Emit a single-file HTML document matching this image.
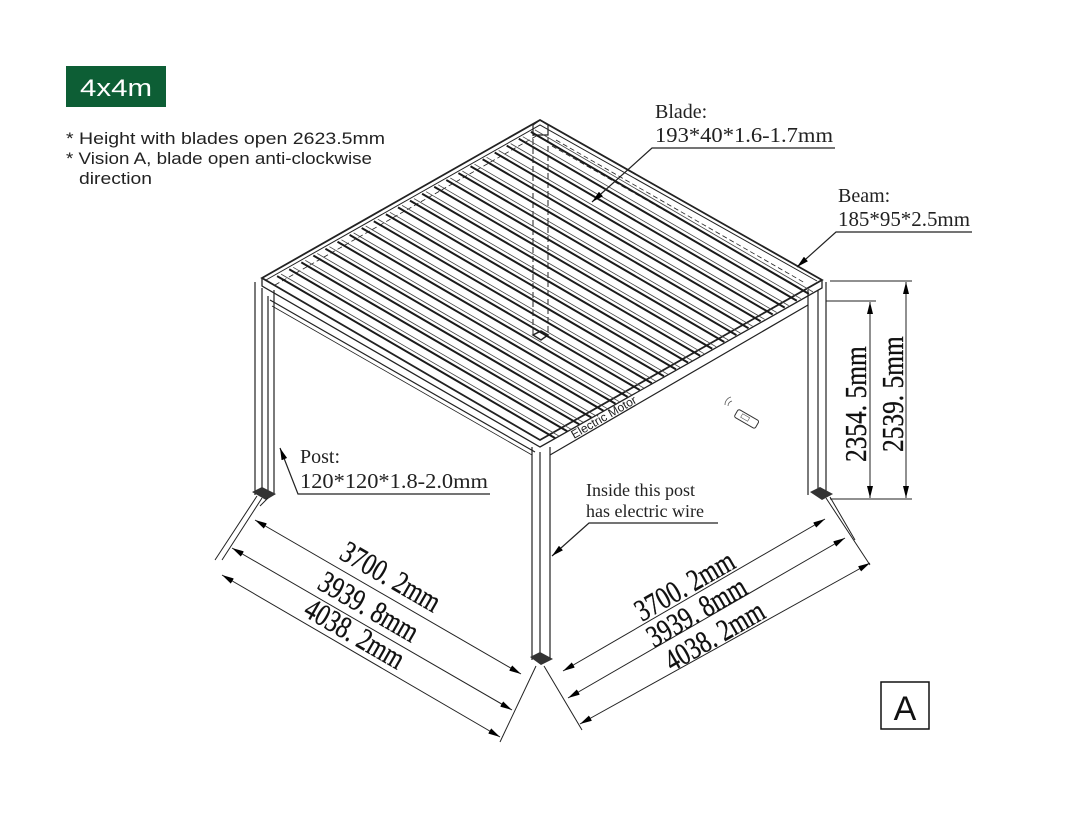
<!DOCTYPE html>
<html><head><meta charset="utf-8"><style>
body{margin:0;background:#fff;}
svg{display:block;}
.s{font-family:"Liberation Sans",sans-serif;}
.d{font-family:"Liberation Serif",serif;}
</style></head><body>
<svg width="1080" height="831" viewBox="0 0 1080 831" xmlns="http://www.w3.org/2000/svg">
<defs>
<marker id="a" viewBox="0 0 12 6" refX="12" refY="3" markerWidth="12" markerHeight="6" orient="auto-start-reverse" markerUnits="userSpaceOnUse"><path d="M0,0 L12,3 L0,6z" fill="#000"/></marker>
<g id="bl"><line x1="265" y1="283" x2="543" y2="445" stroke="#1a1a1a" stroke-width="2"/><line x1="269" y1="281" x2="547" y2="443" stroke="#444" stroke-width="0.8"/></g>
</defs>
<rect x="66" y="66" width="100" height="41" fill="#0d5e35"/>
<text x="80" y="96" class="s" font-size="24" fill="#fff" textLength="72" lengthAdjust="spacingAndGlyphs">4x4m</text>
<text x="66" y="144" class="s" font-size="16.5" fill="#222" textLength="319" lengthAdjust="spacingAndGlyphs">* Height with blades open 2623.5mm</text>
<text x="66" y="164" class="s" font-size="16.5" fill="#222" textLength="306" lengthAdjust="spacingAndGlyphs">* Vision A, blade open anti-clockwise</text>
<text x="79" y="184" class="s" font-size="16.5" fill="#222" textLength="73" lengthAdjust="spacingAndGlyphs">direction</text>

<g fill="none" stroke="#222">
<path d="M262,278 L540,120 L822,280 L540,440 Z" stroke-width="1.8"/>
<path d="M266,280 L540,125 L817,281" stroke-width="1"/>
<path d="M262,278 L262,286 L540,447 L822,288 L822,280" stroke-width="1.3"/>
<path d="M270,300 L535,452 M550,455 L808,305" stroke-width="1.2"/>
<path d="M272,306 L532,455" stroke-width="0.8"/>
<path d="M255,282 L255,495 M274,290 L274,495 M262,288 L262,495 M268,296 L268,495" stroke-width="1.2"/>
<path d="M532,447 L532,660 M550,447 L550,660 M540,452 L540,660" stroke-width="1.2"/>
<path d="M808,290 L808,495 M826,282 L826,495 M818,290 L818,495" stroke-width="1.2"/>
<path d="M533,130 L533,335 M548,128 L548,335" stroke-width="1" stroke-dasharray="6,3"/>
<path d="M533,335 L541,340 L548,335 L541,331 Z" stroke-width="1.5"/>
<path d="M540,120 L548,125 L548,135 L533,135 L533,125 Z" stroke-width="1.2"/>
<path d="M556,140 L805,283 M552,146 L800,288" stroke-width="0.8" stroke-dasharray="5,3"/>
<path d="M275,285 L538,135" stroke-width="0.8" stroke-dasharray="5,3"/>
</g>
<g>
<use href="#bl" transform="translate(12.1,-6.9)"/><use href="#bl" transform="translate(24.2,-13.7)"/><use href="#bl" transform="translate(36.3,-20.6)"/><use href="#bl" transform="translate(48.3,-27.5)"/><use href="#bl" transform="translate(60.4,-34.3)"/><use href="#bl" transform="translate(72.5,-41.2)"/><use href="#bl" transform="translate(84.6,-48.1)"/><use href="#bl" transform="translate(96.7,-55)"/><use href="#bl" transform="translate(108.8,-61.8)"/><use href="#bl" transform="translate(120.9,-68.7)"/><use href="#bl" transform="translate(133,-75.6)"/><use href="#bl" transform="translate(145,-82.4)"/><use href="#bl" transform="translate(157.1,-89.3)"/><use href="#bl" transform="translate(169.2,-96.2)"/><use href="#bl" transform="translate(181.3,-103)"/><use href="#bl" transform="translate(193.4,-109.9)"/><use href="#bl" transform="translate(205.5,-116.8)"/><use href="#bl" transform="translate(217.6,-123.7)"/><use href="#bl" transform="translate(229.7,-130.5)"/><use href="#bl" transform="translate(241.7,-137.4)"/><use href="#bl" transform="translate(253.8,-144.3)"/><use href="#bl" transform="translate(265.9,-151.1)"/>
</g>
<path d="M252,492 L262,487 L276,494 L266,500 Z" fill="#333"/>
<path d="M530,657 L540,652 L553,659 L541,665 Z" fill="#333"/>
<path d="M810,492 L820,487 L833,494 L822,500 Z" fill="#333"/>
<text transform="translate(574,439) rotate(-30)" class="s" font-size="12" fill="#222">Electric Motor</text>
<g transform="translate(746,418) rotate(30)"><rect x="-11" y="-4" width="24" height="9" rx="2" fill="none" stroke="#333"/><rect x="-5" y="-2" width="8" height="4" fill="none" stroke="#555" stroke-width=".6"/></g>
<path d="M728,406 a5,5 0 0,1 4,-5 M725,405 a8,8 0 0,1 6,-8" fill="none" stroke="#555" stroke-width=".8"/>

<text x="655" y="118" class="d" font-size="20" fill="#222">Blade:</text>
<text x="655" y="142" class="d" font-size="21" fill="#222" textLength="178" lengthAdjust="spacingAndGlyphs">193*40*1.6-1.7mm</text>
<path d="M835,148 L652,148 L592,202" fill="none" stroke="#222" stroke-width="1.2" marker-end="url(#a)"/>
<text x="838" y="202" class="d" font-size="20" fill="#222">Beam:</text>
<text x="838" y="226" class="d" font-size="21" fill="#222" textLength="132" lengthAdjust="spacingAndGlyphs">185*95*2.5mm</text>
<path d="M972,232 L836,232 L797,267" fill="none" stroke="#222" stroke-width="1.2" marker-end="url(#a)"/>
<text x="300" y="463" class="d" font-size="20" fill="#222">Post:</text>
<text x="300" y="488" class="d" font-size="21" fill="#222" textLength="188" lengthAdjust="spacingAndGlyphs">120*120*1.8-2.0mm</text>
<path d="M490,494 L298,494 L280,448" fill="none" stroke="#222" stroke-width="1.2" marker-end="url(#a)"/>
<text x="586" y="496" class="d" font-size="18" fill="#222">Inside this post</text>
<text x="586" y="517" class="d" font-size="18" fill="#222">has electric wire</text>
<path d="M718,523 L589,523 L552,556" fill="none" stroke="#222" stroke-width="1.2" marker-end="url(#a)"/>

<g stroke="#222" stroke-width="1" fill="none">
<path d="M262,498 L222,560 M257,496 L215,560 M268,498 L260,506"/>
<path d="M536,666 L500,742 M544,666 L582,730"/>
<path d="M826,498 L870,565 M830,497 L855,540"/>
<line x1="255" y1="520" x2="521" y2="674" marker-start="url(#a)" marker-end="url(#a)"/>
<line x1="232" y1="548" x2="512" y2="710" marker-start="url(#a)" marker-end="url(#a)"/>
<line x1="222" y1="575" x2="500" y2="737" marker-start="url(#a)" marker-end="url(#a)"/>
<line x1="563" y1="671" x2="825" y2="519" marker-start="url(#a)" marker-end="url(#a)"/>
<line x1="568" y1="698" x2="845" y2="538" marker-start="url(#a)" marker-end="url(#a)"/>
<line x1="580" y1="724" x2="870" y2="563" marker-start="url(#a)" marker-end="url(#a)"/>
<path d="M830,281 L912,281 M826,301 L876,301 M830,499 L912,499"/>
<line x1="870" y1="302" x2="870" y2="498" marker-start="url(#a)" marker-end="url(#a)"/>
<line x1="906" y1="282" x2="906" y2="498" marker-start="url(#a)" marker-end="url(#a)"/>
</g>
<g class="d" fill="#111" font-size="31" stroke="#111" stroke-width="0.3">
<text transform="translate(338,558) rotate(30) scale(0.78,1)">3700. 2mm</text>
<text transform="translate(316,588) rotate(30) scale(0.78,1)">3939. 8mm</text>
<text transform="translate(302,615) rotate(30) scale(0.78,1)">4038. 2mm</text>
<text transform="translate(642,622) rotate(-30) scale(0.78,1)">3700. 2mm</text>
<text transform="translate(654,648) rotate(-30) scale(0.78,1)">3939. 8mm</text>
<text transform="translate(672,672) rotate(-30) scale(0.78,1)">4038. 2mm</text>
<text transform="translate(866,462) rotate(-90) scale(0.82,1)">2354. 5mm</text>
<text transform="translate(903,452) rotate(-90) scale(0.82,1)">2539. 5mm</text>
</g>
<rect x="881" y="682" width="48" height="47" fill="none" stroke="#111" stroke-width="1.5"/>
<text x="905" y="720" class="s" font-size="34" fill="#111" text-anchor="middle">A</text>
</svg>
</body></html>
